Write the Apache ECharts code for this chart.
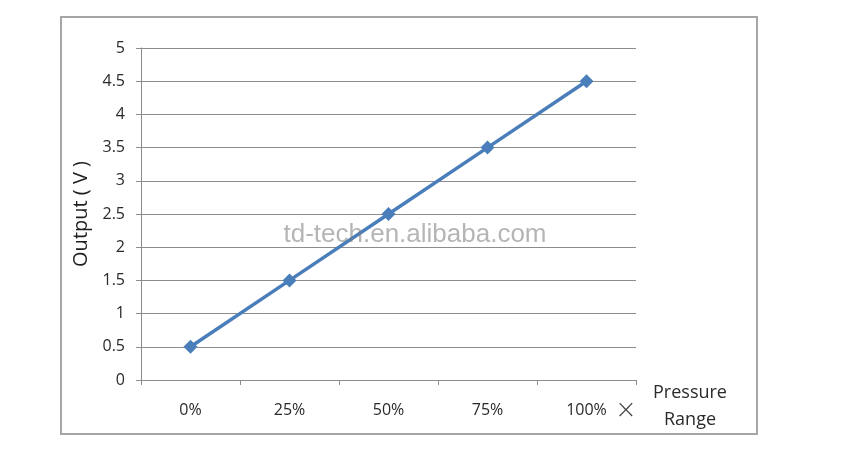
<!DOCTYPE html>
<html>
<head>
<meta charset="utf-8">
<script src="https://cdn.jsdelivr.net/npm/echarts@6/dist/echarts.min.js"></script>
<style>html,body{margin:0;padding:0;background:#fff;}#c{width:841px;height:464px;}</style>
</head>
<body>
<div id="c"></div>
<script>
const categories = ['0%', '25%', '50%', '75%', '100%'];
const outputValues = [0.5, 1.5, 2.5, 3.5, 4.5];
const yTicks = { min: 0, max: 5, interval: 0.5 };

const font = 'Open Sans, Noto Sans, sans-serif';
const chart = echarts.init(document.getElementById('c'));
chart.setOption({
  animation: false,
  backgroundColor: '#fff',
  grid: { left: 141, right: 205, top: 48, bottom: 84 },
  xAxis: {
    type: 'category',
    data: categories,
    boundaryGap: true,
    axisLine: { lineStyle: { color: '#8c8c8c', width: 1 } },
    axisTick: { show: true, length: 5, lineStyle: { color: '#8c8c8c' } },
    axisLabel: { color: '#2a2a2a', fontSize: 16, fontFamily: font, margin: 22 }
  },
  yAxis: {
    type: 'value',
    min: yTicks.min, max: yTicks.max, interval: yTicks.interval,
    name: 'Output ( V )',
    nameLocation: 'middle',
    nameGap: 50,
    nameRotate: 90,
    nameTextStyle: { color: '#1e1e1e', fontSize: 20, fontFamily: font },
    axisLine: { show: true, lineStyle: { color: '#8c8c8c', width: 1 } },
    axisTick: { show: true, length: 5, lineStyle: { color: '#8c8c8c' } },
    axisLabel: { color: '#2a2a2a', fontSize: 16, fontFamily: font, margin: 16 },
    splitLine: { lineStyle: { color: '#8c8c8c', width: 1 } }
  },
  series: [{
    type: 'line',
    data: outputValues,
    symbol: 'diamond',
    symbolSize: 14,
    lineStyle: { color: '#4a7ebb', width: 3.5 },
    itemStyle: { color: '#4a7ebb' },
    z: 3
  }],
  graphic: [
    { type: 'rect', shape: { x: 61, y: 17, width: 696, height: 417 },
      style: { fill: 'none', stroke: '#a6a6a6', lineWidth: 2 }, silent: true, z: -1 },
    { type: 'text', x: 626, y: 411, style: { text: '×', fill: '#444', fontSize: 26, fontWeight: 'lighter', fontFamily: 'DejaVu Sans, sans-serif', align: 'center', verticalAlign: 'middle' } },
    { type: 'text', x: 690, y: 393, style: { text: 'Pressure', fill: '#2a2a2a', fontSize: 18, fontFamily: font, align: 'center', verticalAlign: 'middle' } },
    { type: 'text', x: 690, y: 420, style: { text: 'Range', fill: '#2a2a2a', fontSize: 18, fontFamily: font, align: 'center', verticalAlign: 'middle' } },
    { type: 'text', x: 415, y: 235, style: { text: 'td-tech.en.alibaba.com', fill: 'rgba(120,120,120,0.55)', fontSize: 26, fontFamily: 'Liberation Sans, Arial, sans-serif', align: 'center', verticalAlign: 'middle' }, z: 10 }
  ]
});
</script>
</body>
</html>
